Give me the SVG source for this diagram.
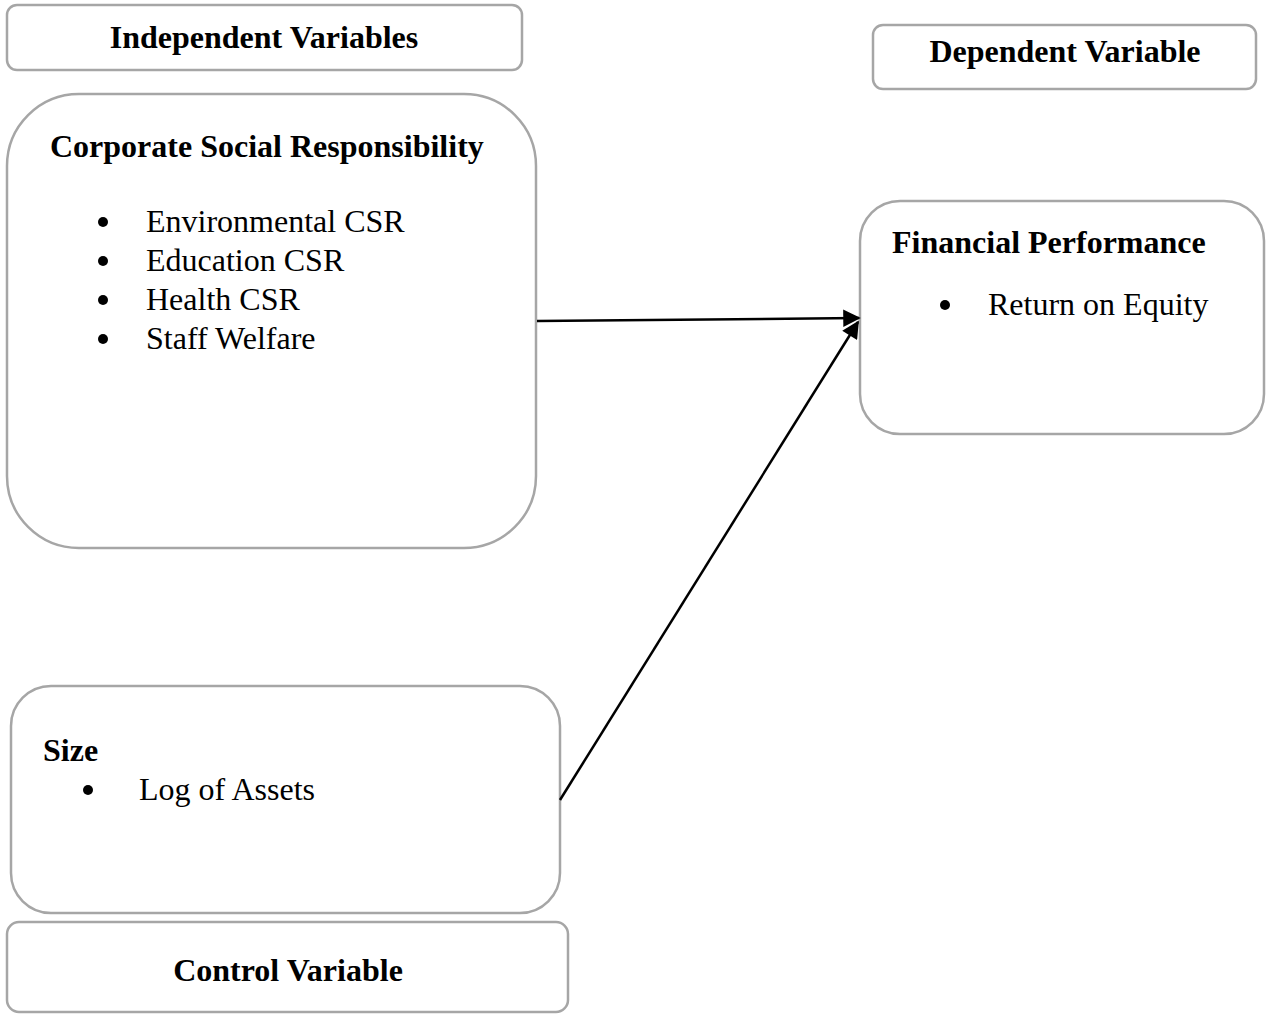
<svg xmlns="http://www.w3.org/2000/svg" width="1270" height="1014" viewBox="0 0 1270 1014">
<style>
.box{fill:#fff;stroke:#a6a6a6;stroke-width:2.5}
.t{font-family:"Liberation Serif","Times New Roman",serif;fill:#000}
.b{font-weight:bold;font-size:32px}
.r{font-size:32px}
.c{stroke:#000;stroke-width:2.5;fill:none}
</style>
<defs>
<marker id="ah" viewBox="0 0 10 10" refX="9" refY="5" markerWidth="8" markerHeight="7" orient="auto" markerUnits="strokeWidth">
<path d="M0,0 L10,5 L0,10 z" fill="#000"/>
</marker>
</defs>
<rect width="1270" height="1014" fill="#fff"/>
<g id="independent-label">
<rect class="box" x="7" y="5" width="515" height="65" rx="10"/>
<text class="t b" x="264" y="48" text-anchor="middle">Independent Variables</text>
</g>
<g id="dependent-label">
<rect class="box" x="873" y="25" width="383" height="64" rx="10"/>
<text class="t b" x="1065" y="62" text-anchor="middle">Dependent Variable</text>
</g>
<g id="csr">
<rect class="box" x="7" y="94" width="529" height="454" rx="72"/>
<text class="t b" x="50" y="157">Corporate Social Responsibility</text>
<circle cx="103" cy="222" r="5"/><text class="t r" x="146" y="232">Environmental CSR</text>
<circle cx="103" cy="261" r="5"/><text class="t r" x="146" y="271">Education CSR</text>
<circle cx="103" cy="300" r="5"/><text class="t r" x="146" y="310">Health CSR</text>
<circle cx="103" cy="339" r="5"/><text class="t r" x="146" y="349">Staff Welfare</text>
</g>
<g id="financial">
<rect class="box" x="860" y="201" width="404" height="233" rx="40"/>
<text class="t b" x="892" y="253">Financial Performance</text>
<circle cx="945" cy="305" r="5"/><text class="t r" x="988" y="315">Return on Equity</text>
</g>
<g id="size">
<rect class="box" x="11" y="686" width="549" height="227" rx="40"/>
<text class="t b" x="43" y="761">Size</text>
<circle cx="88" cy="790" r="5"/><text class="t r" x="139" y="800">Log of Assets</text>
</g>
<g id="control-label">
<rect class="box" x="7" y="922" width="561" height="90" rx="12"/>
<text class="t b" x="288" y="981" text-anchor="middle">Control Variable</text>
</g>
<g id="connectors">
<line class="c" x1="537" y1="321" x2="859" y2="318" marker-end="url(#ah)"/>
<line class="c" x1="560" y1="800" x2="858" y2="322" marker-end="url(#ah)"/>
</g>
</svg>
